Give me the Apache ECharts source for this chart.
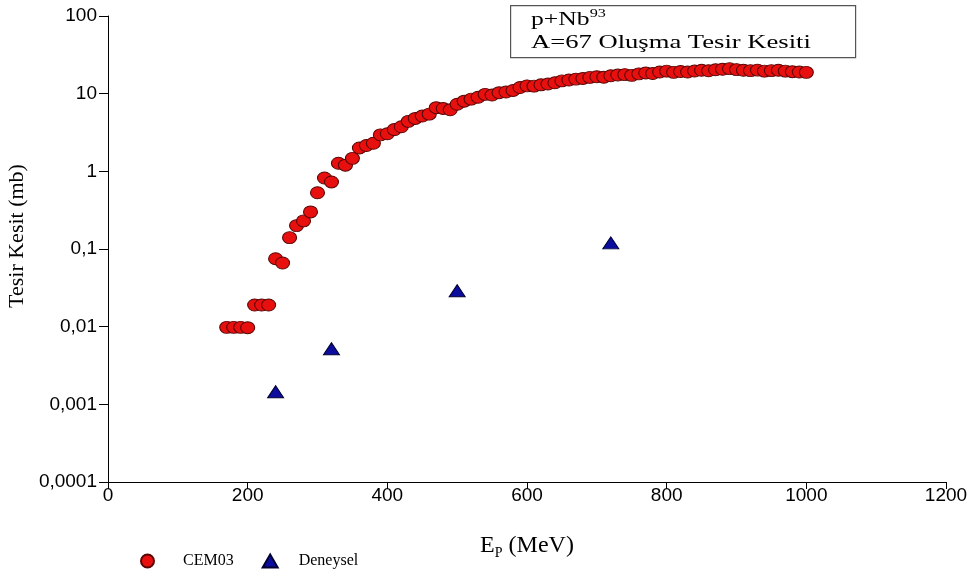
<!DOCTYPE html>
<html>
<head>
<meta charset="utf-8">
<script src="https://cdn.jsdelivr.net/npm/echarts@6/dist/echarts.min.js"></script>
<style>html,body{margin:0;padding:0;background:#fff}#c{width:976px;height:576px}</style>
</head>
<body>
<div id="c"></div>
<script>
// CEM03 energies (MeV) and cross sections (mb)
var cemEnergy = [170,180,190,200,210,220,230,240,250,260,270,280,290,300,310,320,330,340,350,360,370,380,390,400,410,420,430,440,450,460,470,480,490,500,510,520,530,540,550,560,570,580,590,600,610,620,630,640,650,660,670,680,690,700,710,720,730,740,750,760,770,780,790,800,810,820,830,840,850,860,870,880,890,900,910,920,930,940,950,960,970,980,990,1000];
var cemValue = [0.0098,0.0098,0.0098,0.0097,0.019,0.019,0.019,0.075,0.066,0.14,0.2,0.23,0.3,0.53,0.82,0.73,1.27,1.2,1.47,2.0,2.15,2.3,2.95,3.05,3.45,3.75,4.4,4.8,5.15,5.45,6.6,6.45,6.2,7.3,8.0,8.5,9.0,9.8,9.6,10.3,10.5,11.0,12.0,12.6,12.5,13.0,13.3,13.8,14.6,15.0,15.4,15.7,16.2,16.5,16.3,17.0,17.4,17.6,17.2,18.0,18.5,18.2,19.0,19.5,18.8,19.3,19.0,19.6,20.0,19.7,20.3,20.6,21.0,20.4,20.0,19.8,20.1,19.5,19.8,20.0,19.5,19.2,19.0,18.8];
// Deneysel (experimental)
var expEnergy = [240,320,500,720];
var expValue = [0.00145,0.0052,0.029,0.12];
// tick labels
var yTickLabels = {'-4':'0,0001','-3':'0,001','-2':'0,01','-1':'0,1','0':'1','1':'10','2':'100'};

var serif = '"Liberation Serif","Times New Roman",serif';
var sans = '"Liberation Sans",Arial,sans-serif';
var ellipse = 'path://M0,10A10,10 0 1,1 20,10A10,10 0 1,1 0,10z';

var cemData = cemEnergy.map(function(e,i){return [e,cemValue[i]];});
var expData = expEnergy.map(function(e,i){return [e,expValue[i]];});

var chart = echarts.init(document.getElementById('c'));
chart.setOption({
  animation:false,
  backgroundColor:'#fff',
  grid:{left:108,right:30,top:16,bottom:94,containLabel:false,outerBoundsMode:'none'},
  xAxis:{
    type:'value',min:0,max:1200,interval:200,
    name:'{e|E}{s|P}{e| (MeV)}',nameLocation:'middle',nameGap:52,
    nameTextStyle:{rich:{
      e:{fontFamily:serif,fontSize:24,color:'#000',lineHeight:26,verticalAlign:'top'},
      s:{fontFamily:serif,fontSize:14,color:'#000',lineHeight:14,verticalAlign:'bottom'}
    }},
    axisLine:{show:true,onZero:false,lineStyle:{color:'#000',width:1}},
    axisTick:{show:true,inside:false,length:7,lineStyle:{color:'#000'}},
    axisLabel:{fontFamily:sans,fontSize:19,color:'#000',margin:4,
      formatter:function(v){return String(v);}},
    splitLine:{show:false}
  },
  yAxis:{
    type:'log',logBase:10,min:0.0001,max:100,
    name:'Tesir Kesit (mb)',nameLocation:'middle',nameGap:78,
    nameTextStyle:{fontFamily:serif,fontSize:22,color:'#000',padding:[0,0,0,26]},
    axisLine:{show:true,lineStyle:{color:'#000',width:1}},
    axisTick:{show:true,inside:false,length:9,lineStyle:{color:'#000'}},
    axisLabel:{fontFamily:sans,fontSize:19,color:'#000',margin:11,
      formatter:function(v){var k=Math.round(Math.log(v)/Math.LN10);return yTickLabels[String(k)]||'';}},
    splitLine:{show:false}
  },
  legend:{
    left:135,top:548,itemGap:28,itemWidth:15,itemHeight:13,
    textStyle:{fontFamily:serif,fontSize:16,color:'#000',padding:[0,0,0,16]},
    data:[
      {name:'CEM03',icon:ellipse,textStyle:{padding:[0,0,0,23]}},
      {name:'Deneysel',icon:'triangle',textStyle:{padding:[0,0,0,16]}}
    ]
  },
  graphic:[
    {type:'rect',left:510,top:5,shape:{width:345,height:52},style:{fill:'#fff',stroke:'#555',lineWidth:1.2},z:10},
    {type:'text',x:531,y:8,scaleX:1.35,z:11,style:{text:'{b|p+Nb}{s|93}',rich:{
      b:{fontFamily:serif,fontSize:19,fill:'#000',lineHeight:22,verticalAlign:'bottom'},
      s:{fontFamily:serif,fontSize:12,fill:'#000',lineHeight:12,verticalAlign:'top'}
    }}},
    {type:'text',x:531,y:34,scaleX:1.4,z:11,style:{text:'A=67 Oluşma Tesir Kesiti',fontFamily:serif,fontSize:19,fill:'#000'}}
  ],
  series:[
    {name:'CEM03',type:'scatter',symbol:ellipse,symbolSize:[14,12],data:cemData,
     itemStyle:{color:'#e8100e',borderColor:'#5a0505',borderWidth:1,opacity:1}},
    {name:'Deneysel',type:'scatter',symbol:'triangle',symbolSize:[16,12],data:expData,
     itemStyle:{color:'#0c0c9e',borderColor:'#000033',borderWidth:1,opacity:1}}
  ]
});
</script>
</body>
</html>
